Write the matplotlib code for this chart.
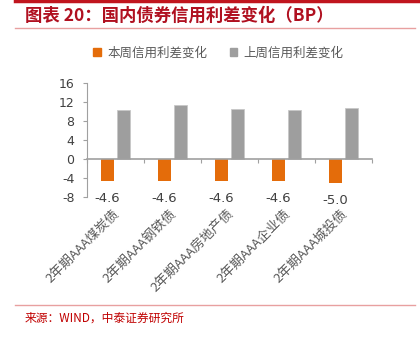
import numpy as np
import matplotlib
matplotlib.use("Agg")
import matplotlib.pyplot as plt
from matplotlib.lines import Line2D
from matplotlib.patches import Patch

plt.rcParams['font.family'] = ['Noto Sans CJK SC', 'DejaVu Sans']

categories = ['2年期AAA煤炭债', '2年期AAA钢铁债', '2年期AAA房地产债', '2年期AAA企业债', '2年期AAA城投债']
this_week = [-4.6, -4.6, -4.6, -4.6, -5.0]
last_week = [10.4, 11.5, 10.6, 10.4, 10.7]
series_names = ['本周信用利差变化', '上周信用利差变化']
yticks = [16, 12, 8, 4, 0, -4, -8]

orange = '#E46C0A'
gray = '#9E9E9E'
red = '#C0151E'
txt = '#595959'

fig = plt.figure(figsize=(4.2, 3.38), dpi=100)
ax = fig.add_axes([0.207, 0.417, 0.679, 0.337])

x = np.arange(len(categories))
w = 0.23
ax.bar(x - 0.14, this_week, w, color=orange)
ax.bar(x + 0.14, last_week, w, color=gray, edgecolor='#C8C8C8', linewidth=0.6)

for xi, v in zip(x, this_week):
    ax.annotate(f'{v:.1f}', (xi - 0.14, v), xytext=(0, -8), textcoords='offset points',
                ha='center', va='top', fontsize=9.5, color='#404040', family='DejaVu Sans')

ax.set_xlim(-0.5, len(categories) - 0.5)
ax.set_ylim(-8, 16)
ax.set_yticks(yticks)
ax.set_yticklabels([str(t) for t in yticks], fontsize=9, color='#404040', family='DejaVu Sans')
ax.set_xticks(np.arange(len(categories) + 1) - 0.5)
ax.set_xticklabels([])
ax.tick_params(axis='x', length=3, color='#A0A0A0', direction='out')
ax.tick_params(axis='y', length=3, color='#A0A0A0', pad=6)
for s in ['top', 'right']:
    ax.spines[s].set_visible(False)
ax.spines['left'].set_color('#A0A0A0')
ax.spines['bottom'].set_color('#A0A0A0')
ax.spines['bottom'].set_position(('data', 0))
ax.spines['left'].set_linewidth(0.8)
ax.spines['bottom'].set_linewidth(1.2)

for xi, c in zip(x, categories):
    ax.annotate(c, (xi, -8), xytext=(-2, -7), textcoords='offset points', rotation=45,
                ha='right', va='top', rotation_mode='anchor', fontsize=9.5, color=txt)

handles = [Patch(color=orange), Patch(color=gray)]
fig.legend(handles, series_names, loc='center', bbox_to_anchor=(0.52, 0.843), ncol=2,
           frameon=False, fontsize=9, handlelength=0.6, handleheight=0.6,
           handletextpad=0.5, columnspacing=1.8, labelcolor=txt)

# header and footer decorations
fig.add_artist(Line2D([15/420, 1], [1 - 1/338, 1 - 1/338], color=red, lw=2.5))
fig.add_artist(Line2D([15/420, 415/420], [1 - 28/338, 1 - 28/338], color='#E8A0A0', lw=1))
fig.text(25/420, 1 - 16/338, '图表 20：国内债券信用利差变化（BP）', fontsize=12.5, fontweight='bold',
         style='italic', color='#B01020', va='center', ha='left')
fig.add_artist(Line2D([15/420, 415/420], [1 - 305/338, 1 - 305/338], color='#E8A0A0', lw=1))
fig.text(25/420, 1 - 318/338, '来源：WIND，中泰证券研究所', fontsize=8.5, color='#C00000',
         va='center', ha='left')

fig.savefig('out.png', dpi=100)
